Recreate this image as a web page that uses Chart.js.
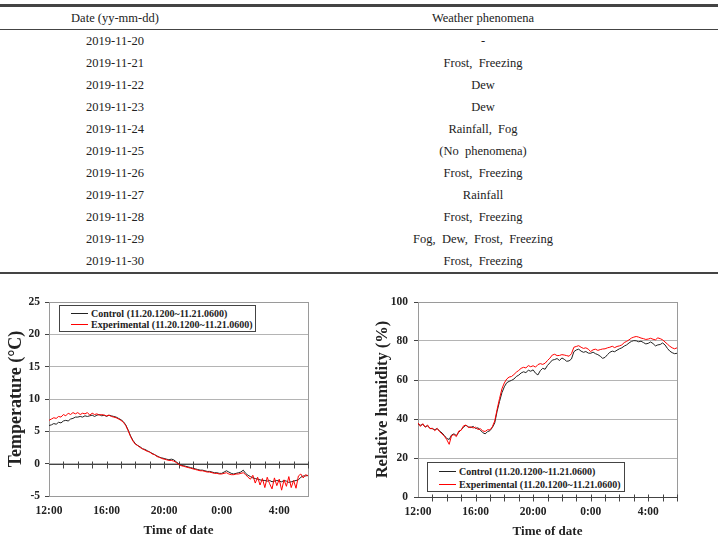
<!DOCTYPE html>
<html>
<head>
<meta charset="utf-8">
<script src="https://cdn.jsdelivr.net/npm/chart.js@4.4.1/dist/chart.umd.min.js"></script>
<style>
  html, body { margin: 0; padding: 0; }
  body { width: 718px; height: 550px; background: #fff; position: relative; overflow: hidden;
         font-family: 'Liberation Serif', 'Times New Roman', serif; color: #222; }
  .wrap { position: absolute; left: 0; top: 4px; width: 718px; border-top: 3px solid #444; border-bottom: 2px solid #444; }
  table.wx { width: 718px; border-collapse: collapse; font-size: 12.5px; }
  table.wx th { font-weight: normal; height: 22px; padding: 0; border-bottom: 1px solid #444; }
  table.wx td { height: 22px; padding: 0; text-align: center; }
  table.wx .c1 { width: 230px; }
  table.wx .c2 { padding-left: 18px; }
  .panel { position: absolute; top: 280px; width: 359px; height: 270px; }
  .lg { position: absolute; background: #fff; border: 1px solid #444; box-sizing: border-box; padding-top: 2px;
        font-weight: bold; font-size: 10px; }
  .lg .row { display: flex; align-items: center; white-space: nowrap; }
  .lg .swatch { width: 17px; height: 1px; margin: 0 3px 0 11px; }
</style>
</head>
<body>
<div class="wrap">
  <table class="wx">
    <thead><tr><th class="c1">Date (yy-mm-dd)</th><th class="c2">Weather phenomena</th></tr></thead>
    <tbody id="wxBody"></tbody>
  </table>
</div>

<div class="panel" style="left:0">
  <canvas id="tempChart" width="359" height="270"></canvas>
  <div id="tempLegend" class="lg" style="left:59px; top:25px; width:197px; height:27px;"></div>
</div>
<div class="panel" style="left:359px">
  <canvas id="rhChart" width="359" height="270"></canvas>
  <div id="rhLegend" class="lg" style="left:68px; top:182px; width:198px; height:30px;"></div>
</div>

<script>
// table
const dates = ['2019-11-20', '2019-11-21', '2019-11-22', '2019-11-23', '2019-11-24', '2019-11-25',
               '2019-11-26', '2019-11-27', '2019-11-28', '2019-11-29', '2019-11-30'];
const phenomena = ['-', 'Frost,  Freezing', 'Dew', 'Dew', 'Rainfall,  Fog', '(No  phenomena)',
                   'Frost,  Freezing', 'Rainfall', 'Frost,  Freezing', 'Fog,  Dew,  Frost,  Freezing', 'Frost,  Freezing'];

// time axis (hours after 12:00), one sample every 10 minutes
const tickHours = [0, 4, 8, 12, 16];
const tickLabels = ['12:00', '16:00', '20:00', '0:00', '4:00'];
const legendLabels = ['Control (11.20.1200~11.21.0600)', 'Experimental (11.20.1200~11.21.0600)'];

const controlTemp = [
  5.9, 6.0, 6.2, 6.1, 6.4, 6.3,
  6.6, 6.7, 6.6, 6.9, 7.0, 7.2,
  7.2, 7.3, 7.2, 7.4, 7.3, 7.4,
  7.5, 7.3, 7.5, 7.6, 7.4, 7.5,
  7.3, 7.5, 7.4, 7.3, 7.2, 7.0,
  6.8, 6.5, 6.0, 5.2, 4.3, 3.6,
  3.1, 2.8, 2.6, 2.3, 2.2, 2.0,
  1.8, 1.6, 1.4, 1.2, 1.0, 0.9,
  0.8, 0.7, 0.6, 0.7, 0.6, 0.3,
  0.0, -0.2, -0.3, -0.4, -0.5, -0.6,
  -0.7, -0.8, -0.9, -1.0, -1.0, -1.1,
  -1.2, -1.2, -1.3, -1.4, -1.4, -1.5,
  -1.5, -1.3, -1.1, -1.3, -1.5, -1.6,
  -1.5, -1.4, -1.3, -1.0, -1.5, -1.8,
  -2.0, -2.2, -2.3, -2.4, -2.5, -2.6,
  -2.6, -2.7, -2.6, -2.8, -2.7, -2.6,
  -2.7, -2.8, -2.6, -2.7, -2.9, -2.8,
  -2.7, -2.6, -2.5, -2.1, -1.9, -1.9,
  -1.8
];
const expTemp = [
  6.7, 6.9, 7.1, 7.0, 7.3, 7.2,
  7.6, 7.4, 7.8, 7.6, 7.9, 7.7,
  7.9, 7.6, 7.8, 7.7, 7.9, 7.5,
  7.8, 7.6, 7.7, 7.5, 7.6, 7.5,
  7.4, 7.5, 7.3, 7.2, 7.1, 6.9,
  6.7, 6.4, 5.9, 5.1, 4.2, 3.5,
  3.0, 2.8, 2.5, 2.3, 2.1, 1.9,
  1.8, 1.5, 1.4, 1.1, 1.0, 0.8,
  0.7, 0.6, 0.5, 0.5, 0.4, 0.2,
  -0.1, -0.3, -0.4, -0.5, -0.6, -0.7,
  -0.8, -0.9, -1.0, -1.1, -1.1, -1.2,
  -1.3, -1.3, -1.4, -1.5, -1.5, -1.6,
  -1.6, -1.5, -1.4, -1.6, -1.7, -1.7,
  -1.6, -1.6, -1.5, -1.4, -1.7, -2.1,
  -2.4, -1.8, -3.0, -2.1, -3.3, -2.3,
  -3.7, -2.1, -3.1, -3.9, -2.2, -3.4,
  -2.4, -4.1, -2.5, -3.5, -2.0, -3.7,
  -2.6, -3.8, -1.9, -1.6, -2.2, -1.7,
  -1.9
];
const controlRH = [
  37.5, 36.8, 37.2, 36.0, 36.5, 35.2,
  35.0, 34.5, 35.1, 33.8, 32.9, 31.5,
  30.0, 29.5, 31.8, 32.4, 31.5, 33.2,
  34.5, 35.9, 36.8, 36.0, 35.6, 36.2,
  35.1, 35.5, 34.3, 33.0, 32.4, 33.5,
  34.0, 35.6, 38.0, 44.0, 49.0, 53.5,
  56.5, 58.6, 59.3, 59.8, 60.5, 61.8,
  62.5, 63.6, 64.2, 63.8, 65.0, 64.5,
  65.2, 63.5, 62.6, 64.8, 66.0, 65.5,
  67.5, 68.8, 70.2, 70.5, 71.0, 70.0,
  71.3, 70.6, 69.6, 69.8, 70.8, 74.5,
  75.4, 75.8, 74.8, 74.2, 74.6, 73.8,
  73.7, 74.3, 73.5, 73.0, 72.2, 71.1,
  71.6, 73.0, 74.2, 74.8, 74.5, 75.3,
  76.0, 76.5, 77.4, 78.0, 79.0, 79.8,
  80.2, 80.1, 79.6, 79.9, 79.2, 78.5,
  78.8, 79.5, 78.7, 77.5, 78.0, 78.2,
  79.0, 78.0, 76.2, 74.8, 74.0, 73.5,
  73.7
];
const expRH = [
  38.0, 36.2, 37.6, 35.8, 36.9, 35.0,
  35.3, 34.0, 35.2, 33.5, 32.4, 31.2,
  29.4, 27.0, 31.5, 32.0, 31.0, 33.8,
  34.2, 36.5, 36.9, 35.6, 36.0, 35.4,
  35.8, 34.6, 35.0, 33.9, 33.6, 34.5,
  34.4, 36.0, 39.0, 45.0, 50.5, 55.5,
  58.5, 60.5, 61.5, 61.8, 62.8, 64.0,
  64.9, 66.0, 66.5, 66.2, 67.4, 66.8,
  67.3, 66.6, 67.9, 68.4, 68.0, 68.6,
  70.0, 71.2, 72.8, 73.2, 72.5, 72.6,
  73.0, 72.8, 72.5, 72.2, 73.5, 76.8,
  77.2, 77.6, 76.8, 76.2, 76.5, 75.8,
  74.6, 75.5, 75.8, 75.2, 75.6, 75.9,
  76.0, 76.5, 76.8, 77.3, 76.6, 77.2,
  77.5, 78.0, 79.2, 79.8, 80.6, 81.5,
  82.0, 82.3, 82.0, 81.5, 81.2, 80.8,
  81.0, 81.4, 80.9, 80.6, 81.6, 81.2,
  80.6, 79.5, 78.4, 77.3, 76.5, 76.0,
  76.5
];

const STEP_H = 1 / 6;
const FONT = "'Liberation Serif', 'Times New Roman', serif";
const INK = '#222';
const colors = ['#222222', '#ff0000'];

// fill the table
const body = document.getElementById('wxBody');
dates.forEach((d, i) => {
  const tr = document.createElement('tr');
  tr.innerHTML = `<td class="c1">${d}</td><td class="c2"></td>`;
  tr.children[1].textContent = phenomena[i];
  tr.children[1].style.whiteSpace = 'pre';
  body.appendChild(tr);
});

// box around plot, dark axis line at y = 0 with hourly ticks
const framePlugin = {
  id: 'frame',
  beforeDatasetsDraw(chart) {
    const { ctx, chartArea: a, scales } = chart;
    ctx.save();
    ctx.lineWidth = 1;
    ctx.strokeStyle = '#9a9a9a';
    ctx.strokeRect(Math.round(a.left) + 0.5, Math.round(a.top) + 0.5,
                   Math.round(a.right - a.left), Math.round(a.bottom - a.top));
    const y0 = Math.round(scales.y.getPixelForValue(0)) + 0.5;
    ctx.strokeStyle = '#444';
    ctx.beginPath();
    ctx.moveTo(a.left, y0);
    ctx.lineTo(a.right, y0);
    for (let h = 1; h <= 18; h++) {
      const x = Math.round(scales.x.getPixelForValue(h)) + 0.5;
      ctx.moveTo(x, y0 - 3);
      ctx.lineTo(x, y0 + 4);
    }
    ctx.stroke();
    ctx.restore();
  }
};

function makeChart(id, series, cfg) {
  return new Chart(document.getElementById(id), {
    type: 'line',
    data: {
      datasets: series.map((vals, k) => ({
        label: legendLabels[k],
        data: vals.map((v, i) => ({ x: i * STEP_H, y: v })),
        borderColor: colors[k],
        borderWidth: 1,
        pointRadius: 0,
        tension: 0,
        order: 1 - k
      }))
    },
    options: {
      responsive: false,
      animation: false,
      devicePixelRatio: 1,
      layout: { padding: cfg.padding },
      plugins: { legend: { display: false }, tooltip: { enabled: false } },
      scales: {
        x: {
          type: 'linear', min: 0, max: 18,
          afterBuildTicks: s => { s.ticks = tickHours.map(v => ({ value: v })); },
          afterFit: s => { s.height = cfg.xHeight; },
          ticks: {
            callback: v => tickLabels[tickHours.indexOf(v)],
            font: { family: FONT, size: 11.5, weight: 'bold' }, color: INK, padding: 8, maxRotation: 0
          },
          grid: { display: false, drawTicks: false },
          border: { display: false },
          title: {
            display: true, text: 'Time of date', color: INK,
            font: { family: FONT, size: 13, weight: 'bold' }, padding: { top: 0, bottom: cfg.xTitlePad }
          }
        },
        y: {
          min: cfg.yMin, max: cfg.yMax,
          afterFit: s => { s.width = cfg.yWidth; },
          ticks: {
            stepSize: cfg.yStep,
            font: { family: FONT, size: 11.5, weight: 'bold' }, color: INK, padding: cfg.yTickPad
          },
          grid: { color: '#b4b4b4', tickColor: '#444', tickLength: 4 },
          border: { display: true, color: '#444' },
          title: {
            display: true, text: cfg.yTitle, color: INK,
            font: { family: FONT, size: cfg.yTitleSize, weight: 'bold' }, padding: { top: cfg.yTitlePad, bottom: 0 }
          }
        }
      }
    },
    plugins: [framePlugin]
  });
}

function buildLegend(id, rowH) {
  const box = document.getElementById(id);
  legendLabels.forEach((txt, k) => {
    const row = document.createElement('div');
    row.className = 'row';
    row.style.height = rowH + 'px';
    const sw = document.createElement('span');
    sw.className = 'swatch';
    sw.style.background = colors[k];
    const t = document.createElement('span');
    t.textContent = txt;
    row.appendChild(sw);
    row.appendChild(t);
    box.appendChild(row);
  });
}

makeChart('tempChart', [controlTemp, expTemp], {
  padding: { top: 22, right: 51, left: 0, bottom: 0 },
  xHeight: 54, xTitlePad: 12,
  yMin: -5, yMax: 25, yStep: 5, yWidth: 49, yTickPad: 5,
  yTitle: 'Temperature (°C)', yTitleSize: 18, yTitlePad: 6
});
makeChart('rhChart', [controlRH, expRH], {
  padding: { top: 22, right: 41, left: 0, bottom: 0 },
  xHeight: 53, xTitlePad: 11,
  yMin: 0, yMax: 100, yStep: 20, yWidth: 59, yTickPad: 6,
  yTitle: 'Relative humidity (%)', yTitleSize: 16.5, yTitlePad: 14
});
buildLegend('tempLegend', 11);
buildLegend('rhLegend', 13);
</script>
</body>
</html>
